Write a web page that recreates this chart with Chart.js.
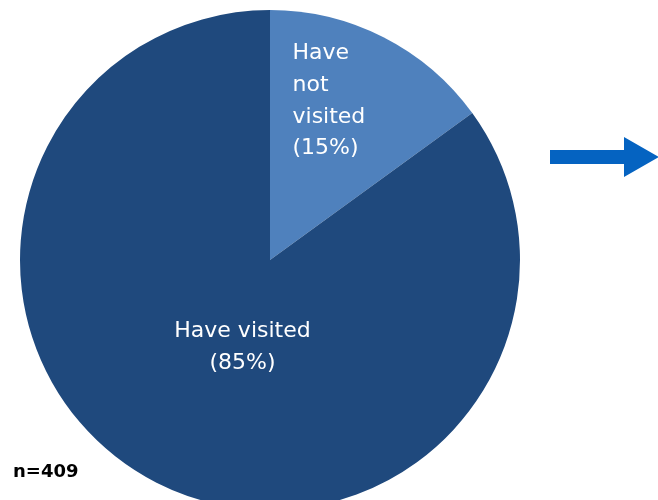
<!DOCTYPE html>
<html>
<head>
<meta charset="utf-8">
<script src="https://cdn.jsdelivr.net/npm/chart.js@4"></script>
<style>
  html, body { margin:0; padding:0; background:#fff; overflow:hidden; }
  #wrap { width:658px; height:520px; position:relative; }
</style>
</head>
<body>
<div id="wrap"><canvas id="grafico"></canvas></div>
<script>
// dados
const categorias = ["Have not visited", "Have visited"];
const percentuais = [15, 85];
const rotulos = [["Have", "not", "visited", "(15%)"], ["Have visited", "(85%)"]];
const cores = ["#4F81BD", "#1F497D"];
const amostra = "n=409";

// textos das fatias + seta + n
const textos = {
  id: "textos",
  afterDraw(chart){
    const ctx = chart.ctx;
    const arcs = chart.getDatasetMeta(0).data;
    ctx.save();
    ctx.fillStyle = "#ffffff";
    ctx.font = "22px 'DejaVu Sans'";
    ctx.textBaseline = "middle";

    // fatia clara: alinhada à esquerda, perto do topo
    const a = arcs[0];
    ctx.textAlign = "left";
    rotulos[0].forEach((linha, i)=>{
      ctx.fillText(linha, a.x + a.outerRadius*0.09, a.y - a.outerRadius*0.826 + i*31.7);
    });

    // fatia escura: centralizada
    const b = arcs[1];
    ctx.textAlign = "center";
    rotulos[1].forEach((linha, i)=>{
      ctx.fillText(linha, b.x - b.outerRadius*0.11, b.y + b.outerRadius*0.285 + i*32);
    });

    // seta
    ctx.fillStyle = "#0563C1";
    ctx.beginPath();
    ctx.moveTo(550, 150);
    ctx.lineTo(624, 150);
    ctx.lineTo(624, 137);
    ctx.lineTo(659, 157);
    ctx.lineTo(624, 177);
    ctx.lineTo(624, 164);
    ctx.lineTo(550, 164);
    ctx.closePath();
    ctx.fill();

    // n
    ctx.fillStyle = "#000000";
    ctx.font = "bold 18px 'DejaVu Sans'";
    ctx.textAlign = "left";
    ctx.textBaseline = "alphabetic";
    ctx.fillText(amostra, 13, 477);
    ctx.restore();
  }
};

new Chart(document.getElementById("grafico"), {
  type: "pie",
  data: {
    labels: categorias,
    datasets: [{
      data: percentuais,
      backgroundColor: cores,
      borderWidth: 0
    }]
  },
  options: {
    responsive: true,
    maintainAspectRatio: false,
    animation: false,
    layout: { padding: { left: 20, right: 138, top: 10, bottom: 10 } },
    plugins: {
      legend: { display: false },
      tooltip: { enabled: false }
    }
  },
  plugins: [textos]
});
</script>
</body>
</html>
